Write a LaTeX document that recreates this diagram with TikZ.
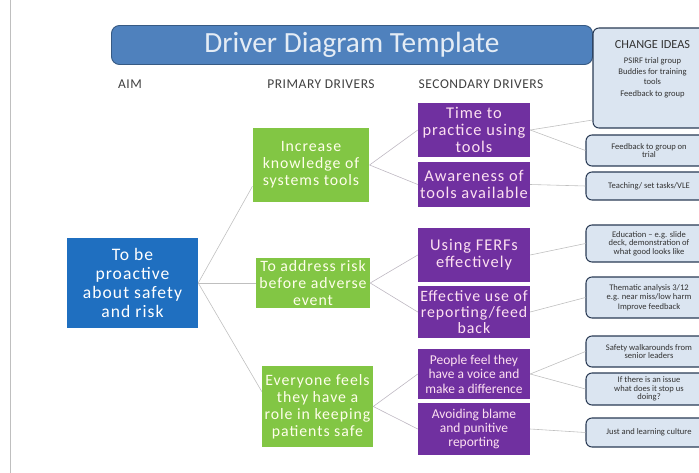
\documentclass[tikz,border=0pt]{standalone}
\usepackage{fontspec}
\setmainfont{Carlito}
\newfontfamily\widefont[LetterSpace=6]{Carlito}
\newfontfamily\headfont[LetterSpace=4]{Carlito}
\definecolor{barblue}{HTML}{4F81BD}
\definecolor{aimblue}{HTML}{1F6FC0}
\definecolor{prigreen}{HTML}{82C644}
\definecolor{secpurple}{HTML}{7030A0}
\definecolor{ideafill}{HTML}{DBE5F1}
\definecolor{idealine}{HTML}{2A3B55}
\tikzset{
  aimbox/.style={fill=aimblue,text=white,align=center,inner sep=1pt,
    minimum width=39.3mm,minimum height=27mm,font=\widefont\fontsize{15}{16}\selectfont},
  pribox/.style={fill=prigreen,text=white!92!yellow,align=center,inner sep=1pt,
    minimum width=35mm,font=\widefont\fontsize{13.5}{14.5}\selectfont},
  secbox/.style={fill=secpurple,text=white!88!magenta,align=center,inner sep=1pt,
    minimum width=33.6mm,font=\widefont\fontsize{14}{14.5}\selectfont},
  ideabox/.style={fill=ideafill,draw=idealine,line width=0.9pt,rounded corners=1.8mm,
    align=center,inner sep=1pt,minimum width=37.8mm,text=black!80,
    font=\fontsize{7.3}{7.4}\selectfont},
  heading/.style={text=black!75,font=\headfont\fontsize{11.5}{12}\selectfont},
  link/.style={draw=black!25,line width=0.5pt}
}
\begin{document}
\begin{tikzpicture}[x=0.3mm,y=-0.3mm]
\clip (0,0) rectangle (699,473); % page
\draw[black!25] (10,0) -- (10,473); % left margin line

\node[fill=barblue,draw=barblue!70!black,line width=0.8pt,rounded corners=2.4mm,
      minimum width=144.3mm,minimum height=11.7mm,text=white!85!barblue,
      font=\fontsize{25}{26}\selectfont] (title) at (352,45) {Driver Diagram Template};
\node[heading] (haim) at (130,84) {AIM};
\node[heading] (hpri) at (321,84) {PRIMARY DRIVERS};
\node[heading] (hsec) at (481,84) {SECONDARY DRIVERS};

\node[aimbox] (aim) at (132.5,283) {To be\\proactive\\about safety\\and risk};

\node[pribox,minimum height=22.2mm] (p1) at (311,165) {Increase\\knowledge of\\systems tools};
\node[pribox,minimum height=15mm,minimum width=34.2mm] (p2) at (313,283)
      {To address risk\\before adverse\\event};
\node[pribox,minimum height=24.3mm,minimum width=33.3mm] (p3) at (317.5,406.5)
      {Everyone feels\\they have a\\role in keeping\\patients safe};

\node[secbox,minimum height=16.2mm] (s1) at (474,130) {Time to\\practice using\\tools};
\node[secbox,minimum height=13.5mm] (s2) at (474,184.5) {Awareness of\\tools available};
\node[secbox,minimum height=16.2mm] (s3) at (474,255) {Using FERFs\\effectively};
\node[secbox,minimum height=15.6mm,font=\widefont\fontsize{13.5}{14}\selectfont] (s4) at (474,312)
      {Effective use of\\reporting/feed\\back};
\node[secbox,minimum height=15mm,font=\fontsize{11.5}{12.3}\selectfont] (s5) at (474,374)
      {People feel they\\have a voice and\\make a difference};
\node[secbox,minimum height=15.6mm,font=\fontsize{11.5}{12.3}\selectfont] (s6) at (474,429)
      {Avoiding blame\\and punitive\\reporting};

\node[ideabox,minimum height=30mm,minimum width=35.7mm,font=\fontsize{7.3}{8.6}\selectfont] (c1) at (652.5,78)
      {{\fontsize{10.5}{12}\selectfont CHANGE IDEAS}\\[5pt]PSIRF trial group\\Buddies for training\\tools\\[2pt]Feedback to group\\[8pt]};
\node[ideabox,minimum height=9.3mm] (c2) at (649,150.5) {Feedback to group on\\trial};
\node[ideabox,minimum height=8.4mm] (c3) at (649,186) {Teaching/ set tasks/VLE};
\node[ideabox,minimum height=11.1mm] (c4) at (649,243.5)
      {Education -- e.g. slide\\deck, demonstration of\\what good looks like};
\node[ideabox,minimum height=12.3mm] (c5) at (649,297.5)
      {Thematic analysis 3/12\\e.g. near miss/low harm\\[1pt]Improve feedback};
\node[ideabox,minimum height=9.3mm] (c6) at (649,351.5) {Safety walkarounds from\\senior leaders};
\node[ideabox,minimum height=9.6mm] (c7) at (649,389) {If there is an issue\\what does it stop us\\doing?};
\node[ideabox,minimum height=8.7mm] (c8) at (649,432.5) {Just and learning culture};

% aim to primary drivers
\draw[link] (aim.east) -- (p1.200);
\draw[link] (aim.east) -- (p2.west);
\draw[link] (aim.east) -- (p3.165);
% primary to secondary drivers
\foreach \p/\a/\b in {p1/s1/s2,p2/s3/s4,p3/s5/s6} {
  \draw[link,draw=secpurple!30!black!30] (\a.west) -- (\p.east) -- (\b.west);
}
% secondary drivers to change ideas
\draw[link] (s1.east) -- (c1.215);
\foreach \s/\c in {s1/c2,s2/c3,s3/c4,s4/c5,s5/c6,s5/c7,s6/c8}
  \draw[link] (\s.east) -- (\c.west);
\end{tikzpicture}
\end{document}
